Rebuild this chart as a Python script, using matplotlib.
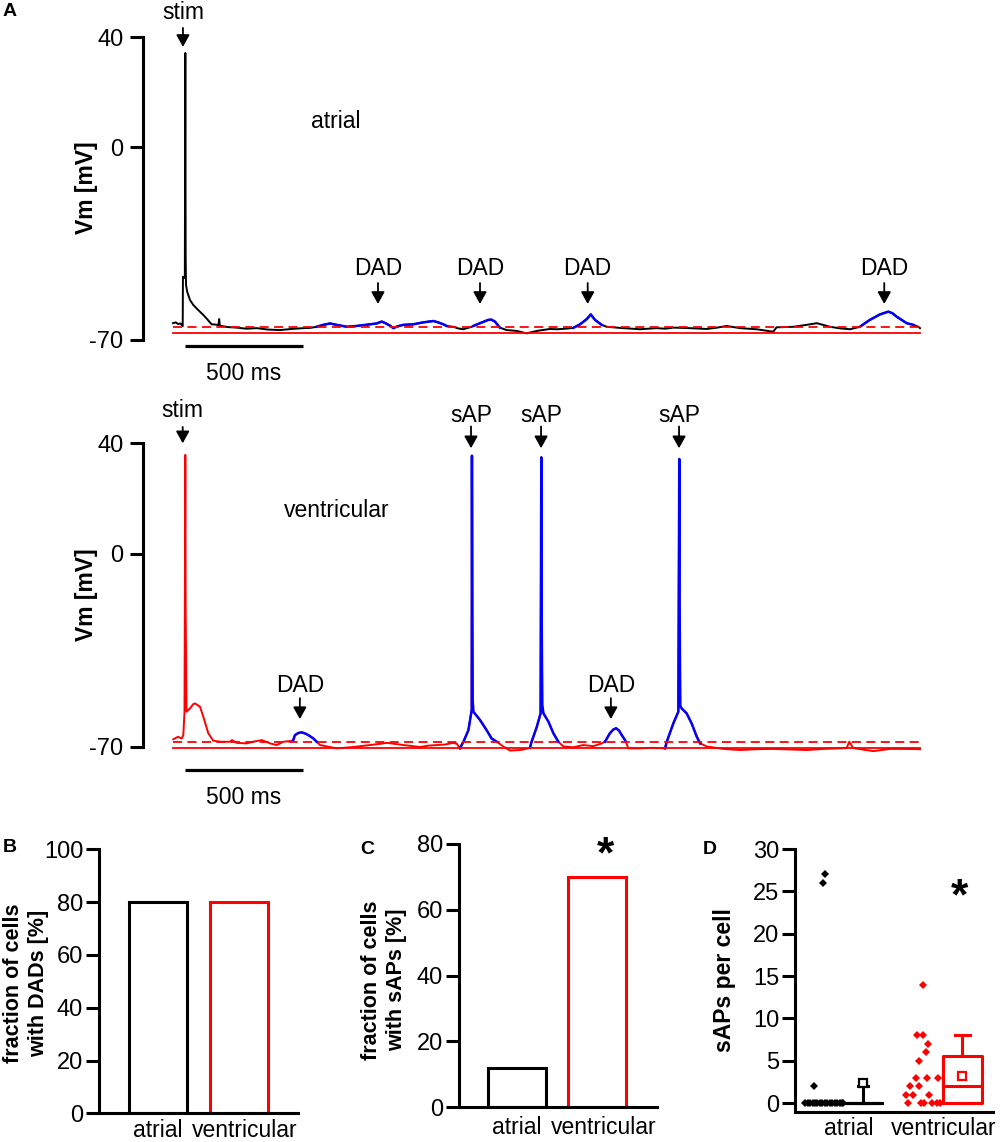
import numpy as np
import matplotlib.pyplot as plt

plt.rcParams['font.family'] = ['Liberation Sans', 'DejaVu Sans']
plt.rcParams['axes.unicode_minus'] = False

W, H = 1000, 1142

# ---------------- panel A: membrane potential traces (t in ms, Vm in mV) ----------------
atrial_t = [0, 12, 21, 32, 41, 42, 50, 52, 53.5, 55, 60, 72, 86, 105, 128, 145, 163, 180,
            192, 195, 198, 230, 269, 310, 354, 400, 452, 500, 550, 580, 607,
            635, 663, 692, 734, 776, 832, 860, 882, 900, 917, 931, 950, 973, 1015, 1057,
            1100, 1120, 1142, 1156, 1184, 1205, 1226, 1262, 1269, 1297, 1332, 1345, 1360,
            1381, 1410, 1452, 1494, 1537, 1593, 1621, 1660, 1691, 1720, 1748, 1765, 1783,
            1811, 1832, 1902, 1940, 1973, 2043, 2080, 2114, 2184, 2255, 2300, 2339, 2396,
            2466, 2536, 2550, 2621, 2677, 2720, 2776, 2820, 2861, 2902, 2944, 2987, 3022,
            3040, 3057, 3100, 3128, 3149, 3156]
atrial_v = [-63.9, -63.6, -64.2, -64.0, -65.0, -47.0, -47.5, 34.3, -40.0, -50.0, -52.5,
            -55.5, -57.3, -59.0, -60.9, -62.5, -64.3, -64.4, -64.6, -62.4, -64.8, -65.3,
            -65.5, -65.9, -65.7, -66.2, -66.4, -66.0, -65.7, -65.6, -65.2,
            -64.5, -64.0, -64.5, -65.2, -64.9, -64.3, -64.0, -63.3, -64.0, -64.8, -65.7,
            -65.0, -64.5, -64.3, -63.6, -63.1, -63.6, -64.3, -64.9, -65.2, -65.8, -66.1,
            -65.2, -64.9, -63.9, -62.7, -62.6, -63.3, -65.5, -66.4, -66.7, -67.6, -66.7,
            -66.0, -66.1, -65.9, -65.6, -64.3, -62.4, -60.7, -62.7, -64.5, -65.2, -65.7,
            -65.9, -66.1, -65.7, -65.9, -65.5, -65.7, -66.0, -65.5, -64.9, -65.7, -66.1,
            -67.0, -65.4, -65.2, -64.5, -63.9, -65.2, -65.8, -66.1, -65.2, -62.7, -60.7,
            -59.7, -60.3, -61.5, -63.9, -64.5, -65.2, -65.7]
atrial_blue = [(607, 1156), (1269, 1381), (1691, 1811), (2902, 3128)]
atrial_rest = -67.3
atrial_thresh = -65.2
atrial_marks = ['stim', 'DAD', 'DAD', 'DAD', 'DAD']
atrial_mark_t = [42, 866, 1297, 1752, 3005]

vent_t = [1, 10, 22, 30, 37, 43.5, 48.6, 52, 53.5, 57, 72, 85, 93, 100, 114, 128, 149, 170,
          199, 241, 249, 269, 311, 338, 375, 410, 438, 466, 502, 508,
          515, 530, 544, 558, 572, 593, 607,
          621, 692, 762, 832, 870, 903, 940, 973, 1044, 1080, 1114, 1150, 1184, 1200, 1212,
          1227, 1248, 1262, 1263, 1264.5, 1266, 1269, 1297, 1325, 1346, 1368,
          1395, 1424, 1466, 1501, 1508,
          1515, 1537, 1553, 1556, 1557.5, 1560, 1565, 1586, 1607, 1628,
          1649, 1691, 1733, 1776, 1811, 1825,
          1846, 1860, 1872, 1885, 1896, 1910,
          1924, 1973, 2029, 2079,
          2086, 2114, 2135, 2139, 2140.5, 2143, 2149, 2170, 2191, 2213, 2227,
          2255, 2325, 2395, 2466, 2536, 2610, 2677, 2747, 2846, 2857, 2874, 2959, 3029,
          3100, 3156]
vent_v = [-67.3, -66.9, -66.4, -66.8, -67.0, -65.8, -57.4, 35.8, -20.0, -57.3, -56.1, -54.6,
          -54.3, -54.7, -55.5, -59.1, -65.1, -67.8, -68.2, -68.2, -67.6, -68.6, -68.8,
          -68.2, -67.6, -68.8, -69.4, -68.2, -67.9, -67.6,
          -65.8, -65.0, -64.8, -65.2, -65.8, -67.0, -68.2,
          -69.4, -70.6, -70.1, -69.4, -69.0, -68.6, -69.0, -69.4, -70.1, -69.6, -69.4,
          -69.2, -68.6, -69.0, -70.6,
          -68.2, -64.0, -56.7, 35.5, -20.0, -53.0, -57.3, -60.3, -64.0, -67.0, -68.2,
          -69.9, -71.4, -71.2, -70.6, -70.4,
          -68.2, -62.8, -57.9, 34.9, -20.0, -54.9, -57.9, -60.9, -65.1, -68.2,
          -69.9, -70.2, -69.4, -69.8, -68.8, -68.2,
          -65.1, -63.8, -63.3, -64.2, -65.8, -67.6,
          -70.6, -70.6, -70.4, -70.6,
          -68.2, -61.5, -57.3, 34.3, -20.0, -55.2, -56.1, -57.9, -61.5, -66.4, -68.8,
          -69.9, -70.8, -71.2, -70.9, -70.8, -71.0, -71.2, -70.8, -70.5, -68.2, -70.5,
          -71.6, -70.8, -70.8, -70.9]
vent_blue = [(508, 607), (1212, 1368), (1508, 1628), (1825, 1910), (2079, 2227)]
vent_rest = -70.4
vent_thresh = -68.2
vent_marks = ['stim', 'DAD', 'sAP', 'sAP', 'DAD', 'sAP']
vent_mark_t = [41, 536, 1259, 1555, 1850, 2138]

# ---------------- panels B-D ----------------
groups = ['atrial', 'ventricular']
dad_fraction = [80, 80]
sap_fraction = [12, 70]

atrial_saps = [0, 0, 0, 0, 0, 0, 0, 0, 0, 0, 0, 0, 0, 0, 0, 0, 0, 2, 26, 27]
atrial_jitter = [-0.19, -0.165, -0.14, -0.115, -0.09, -0.065, -0.04, -0.015, 0.01, 0.035,
                 0.06, 0.085, 0.11, 0.135, 0.16, 0.18, 0.19, -0.10, -0.013, 0.013]
vent_saps = [14, 8, 8, 7, 6, 5, 3, 3, 3, 2, 2, 1, 1, 1, 0, 0, 0, 0, 0, 0]
vent_jitter = [-0.008, -0.068, -0.008, 0.048, 0.025, -0.042, -0.075, 0.032, 0.143, -0.136,
               -0.042, -0.179, -0.103, 0.058, -0.156, -0.028, 0.005, 0.088, 0.133, 0.166]
atrial_box = dict(q1=0, med=0, q3=0, whislo=0, whishi=2, mean=2.4, fliers=[])
vent_box = dict(q1=0, med=2, q3=5.6, whislo=0, whishi=8, mean=3.2, fliers=[])

fig = plt.figure(figsize=(W / 100, H / 100), dpi=100)


def px_axes(x0, y0, x1, y1):
    return fig.add_axes([x0 / W, 1 - y1 / H, (x1 - x0) / W, (y1 - y0) / H])


def draw_trace(ax, t, v, base, blue, rest, thresh):
    t = np.array(t)
    v = np.array(v)
    ax.plot(t, v, color=base, lw=1.4, zorder=2)
    for t0, t1 in blue:
        m = (t >= t0) & (t <= t1)
        ax.plot(t[m], v[m], color='#0000ff', lw=1.8, zorder=3)
    ax.plot([0, t[-1]], [rest, rest], color='#ff0000', lw=1.3, zorder=4)
    ax.plot([0, t[-1]], [thresh, thresh], color='#ff0000', lw=1.3, ls=(0, (5, 3)), zorder=4)


def style_trace_axes(ax, ylim):
    ax.set_xlim(-125.5, 3325)
    ax.set_ylim(*ylim)
    for s in ['top', 'right', 'bottom']:
        ax.spines[s].set_visible(False)
    ax.spines['left'].set_linewidth(2.2)
    ax.spines['left'].set_bounds(-70, 40)
    ax.set_xticks([])
    ax.set_yticks([-70, 0, 40])
    ax.tick_params(axis='y', length=9.4, width=2.2, labelsize=17, pad=5)
    ax.patch.set_alpha(0)


def mark(ax, label, t, y_text, y_tail, y_tip):
    ax.annotate('', xy=(t, y_tip), xytext=(t, y_tail), annotation_clip=False,
                arrowprops=dict(arrowstyle='-|>,head_length=0.36,head_width=0.2',
                                mutation_scale=20, color='k', lw=1.3,
                                shrinkA=0, shrinkB=0))
    ax.text(t, y_text, label, ha='center', va='baseline', fontsize=16.5)


# top trace (atrial)
axA1 = px_axes(143.3, 23.54, 960, 362.0)
style_trace_axes(axA1, (-78, 45))
draw_trace(axA1, atrial_t, atrial_v, 'k', atrial_blue, atrial_rest, atrial_thresh)
for lab, t in zip(atrial_marks, atrial_mark_t):
    if lab == 'stim':
        mark(axA1, lab, t, 46.6, 43.4, 36.5)
    else:
        mark(axA1, lab, t, -46.4, -49.3, -56.9)
axA1.text(689, 7.0, 'atrial', ha='center', va='baseline', fontsize=16.5)
axA1.plot([50.7, 550.7], [-72.2, -72.2], color='k', lw=2.3, clip_on=False,
          solid_capstyle='butt')
axA1.text(300, -84.5, '500 ms', ha='center', va='baseline', fontsize=16.5)

# bottom trace (ventricular)
axA2 = px_axes(143.3, 429.5, 960, 774.3)
style_trace_axes(axA2, (-80, 45))
draw_trace(axA2, vent_t, vent_v, '#ff0000', vent_blue, vent_rest, vent_thresh)
for lab, t in zip(vent_marks, vent_mark_t):
    if lab == 'stim':
        mark(axA2, lab, t, 49.5, 45.9, 40.0)
    elif lab == 'sAP':
        mark(axA2, lab, t, 47.9, 46.1, 38.2)
    else:
        mark(axA2, lab, t, -50.1, -52.4, -60.0)
axA2.text(692, 13.3, 'ventricular', ha='center', va='baseline', fontsize=16.5)
axA2.plot([50.7, 550.7], [-78.5, -78.5], color='k', lw=2.3, clip_on=False,
          solid_capstyle='butt')
axA2.text(300, -90.8, '500 ms', ha='center', va='baseline', fontsize=16.5)

for yc in (188, 595):
    fig.text(87 / W, 1 - yc / H, 'Vm [mV]', rotation=90, ha='center', va='center',
             fontsize=16.5, fontweight='bold')


def style_stat_axes(ax):
    for s in ['top', 'right']:
        ax.spines[s].set_visible(False)
    for s in ['left', 'bottom']:
        ax.spines[s].set_linewidth(2.2)
    ax.tick_params(axis='y', length=9.4, width=2.2, labelsize=17, pad=2)
    ax.tick_params(axis='x', length=0, labelsize=16.5, pad=4)


# B
axB = px_axes(99, 849.3, 297.7, 1113.3)
axB.bar([0, 1], dad_fraction, width=0.723, facecolor='none', edgecolor=['k', '#ff0000'],
        linewidth=2.2)
axB.set_xlim(-0.734, 1.731)
axB.set_ylim(0, 100)
axB.set_yticks(range(0, 101, 20))
axB.set_xticks([0, 1.08])
axB.set_xticklabels(groups)
style_stat_axes(axB)

# C
axC = px_axes(459, 844, 656.7, 1107.3)
axC.bar([0, 1], sap_fraction, width=0.72, facecolor='none', edgecolor=['k', '#ff0000'],
        linewidth=2.2)
axC.set_xlim(-0.717, 1.739)
axC.set_ylim(0, 80)
axC.set_yticks(range(0, 81, 20))
axC.set_xticks([0, 1.08])
axC.set_xticklabels(groups)
style_stat_axes(axC)
axC.tick_params(axis='x', pad=6)
axC.text(1.097, 72.8, '*', ha='center', va='baseline', fontsize=32, fontweight='bold')

# D
axD = px_axes(795, 849, 993.3, 1111.7)
axD.plot(atrial_jitter, atrial_saps, 'D', color='k', ms=3.8, mew=0)
axD.plot(np.array(vent_jitter) + 1, vent_saps, 'D', color='#ff0000', ms=3.6, mew=0)
for stat, pos, col, cw in [(atrial_box, 0.39, 'k', 0.1), (vent_box, 1.39, '#ff0000', 0.15)]:
    lp = dict(color=col, lw=2.2)
    axD.bxp([stat], positions=[pos], widths=0.39, capwidths=[cw], showmeans=True,
            showfliers=False, manage_ticks=False, boxprops=lp, medianprops=lp,
            whiskerprops=lp, capprops=lp,
            meanprops=dict(marker='s', markerfacecolor='white', markeredgecolor=col,
                           markersize=5.5, markeredgewidth=1.6))
axD.set_xlim(-0.291, 1.701)
axD.set_ylim(-1, 30)
axD.set_yticks(range(0, 31, 5))
axD.set_xticks([0.244, 1.199])
axD.set_xticklabels(groups)
style_stat_axes(axD)
axD.text(1.36, 22.9, '*', ha='center', va='baseline', fontsize=32, fontweight='bold')

fig.text(26 / W, 1 - 983 / H, 'fraction of cells\nwith DADs [%]', rotation=90,
         ha='center', va='center', fontsize=15.5, fontweight='bold', linespacing=1.25)
fig.text(384 / W, 1 - 980 / H, 'fraction of cells\nwith sAPs [%]', rotation=90,
         ha='center', va='center', fontsize=15.5, fontweight='bold', linespacing=1.25)
fig.text(724 / W, 1 - 980.5 / H, 'sAPs per cell', rotation=90,
         ha='center', va='center', fontsize=16.5, fontweight='bold')

for lab, x, y in [('A', 3, 11), ('B', 3, 847.5), ('C', 360, 849.7), ('D', 703, 849)]:
    fig.text(x / W, 1 - y / H, lab, ha='left', va='center', fontsize=14, fontweight='bold')

fig.savefig('out.png', dpi=100)
